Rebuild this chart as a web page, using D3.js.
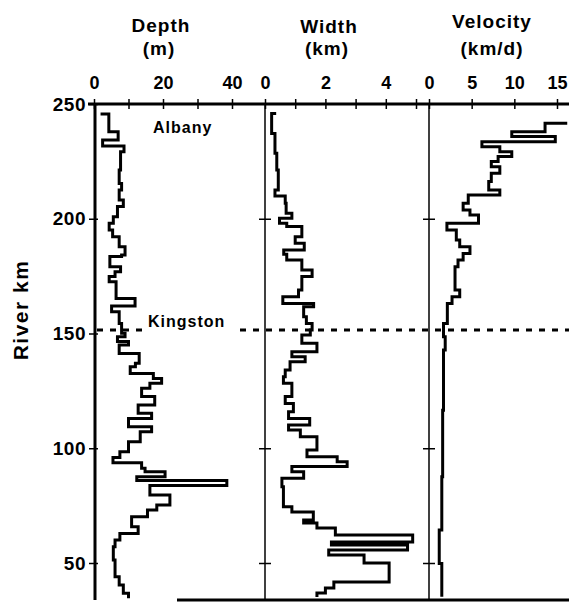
<!DOCTYPE html>
<html>
<head>
<meta charset="utf-8">
<script src="https://cdn.jsdelivr.net/npm/d3@7"></script>
<style>
body { margin: 0; background: #fff; }
svg { display: block; font-family: "Liberation Sans", Arial, Helvetica, sans-serif; font-weight: bold; }
</style>
</head>
<body>
<div id="chart"></div>
<script>
// river km at the top of each bin (last entry = bottom of last bin)
var depthKm = [245.6, 245.6, 237.9, 234.3, 231.7, 229.2, 221.2, 215.4, 212.5, 208.2,
	205.3, 200.9, 198.0, 195.1, 192.2, 187.8, 184.2, 183.5, 179.1, 176.9,
	174.8, 172.6, 165.3, 162.0, 159.5, 154.4, 150.1, 148.6, 146.5, 145.0,
	141.3, 137.0, 135.5, 132.6, 130.4, 128.3, 126.1, 122.5, 118.8, 115.2,
	113.0, 109.4, 107.2, 102.8, 98.5, 96.0, 93.7, 91.3, 89.8, 87.6,
	86.0, 83.8, 79.6, 75.3, 73.1, 70.2, 65.8, 62.9, 60.0, 57.1,
	51.3, 44.0, 40.4, 36.8, 34.6];
var depthM = [1.9, 4.3, 7.0, 2.5, 8.7, 7.7, 7.3, 8.0, 7.3, 8.5,
	6.8, 5.6, 4.4, 5.4, 7.3, 9.0, 8.0, 4.6, 7.7, 6.1,
	4.4, 6.4, 11.9, 5.1, 7.3, 8.0, 9.0, 6.8, 10.0, 7.3,
	13.1, 12.0, 10.5, 17.2, 19.6, 16.2, 13.8, 17.6, 12.8, 16.7,
	10.0, 16.7, 13.4, 10.0, 7.5, 5.5, 13.8, 14.8, 20.6, 12.4,
	38.5, 16.2, 22.0, 18.2, 15.5, 10.9, 12.8, 7.5, 6.1, 5.6,
	6.1, 7.3, 8.5, 10.0];

var widthKm = [245.9, 245.9, 237.2, 228.5, 221.2, 212.5, 209.9, 206.7, 202.4, 200.2,
	198.0, 196.6, 192.2, 189.3, 186.4, 184.5, 182.0, 177.7, 174.8, 169.0,
	166.0, 163.1, 161.7, 157.3, 154.4, 151.5, 149.3, 145.7, 142.1, 139.9,
	137.7, 134.1, 131.2, 128.3, 122.5, 119.5, 115.9, 113.0, 110.1, 107.9,
	105.0, 99.2, 96.3, 94.1, 92.0, 89.8, 86.9, 83.2, 74.5, 72.2,
	68.7, 67.4, 65.2, 62.2, 59.2, 57.8, 55.7, 53.5, 50.0, 41.7,
	39.1, 36.9, 35.2];
var widthKmW = [0.37, 0.22, 0.33, 0.39, 0.44, 0.33, 0.67, 0.70, 0.89, 0.48,
	0.72, 1.22, 1.00, 1.30, 0.62, 0.72, 1.22, 1.56, 1.22, 1.11,
	0.59, 1.61, 1.28, 1.37, 1.56, 1.50, 1.22, 1.72, 0.89, 1.33,
	0.83, 0.67, 0.61, 0.89, 0.67, 0.94, 0.78, 1.48, 0.78, 1.17,
	1.72, 1.39, 2.39, 2.72, 0.89, 1.28, 0.56, 0.61, 0.89, 1.60,
	1.28, 1.72, 2.33, 4.89, 2.20, 4.72, 2.11, 3.28, 4.11, 2.28,
	2.00, 1.72];

var velKm = [241.6, 241.6, 237.9, 235.8, 233.6, 231.4, 229.2, 227.1, 224.9, 222.7,
	219.8, 216.2, 212.5, 210.3, 206.7, 203.8, 201.6, 198.0, 195.1, 190.7,
	187.8, 184.9, 182.0, 179.1, 169.0, 166.0, 163.1, 154.4, 148.6, 142.8,
	116.6, 87.6, 64.4, 49.8, 35.3];
var velKmD = [16.2, 13.6, 9.7, 14.8, 6.2, 8.3, 9.7, 8.1, 7.3, 8.3,
	7.3, 7.0, 8.3, 4.6, 4.0, 4.8, 5.8, 2.1, 3.2, 3.6,
	4.8, 4.0, 3.4, 3.05, 3.6, 2.7, 2.15, 1.7, 1.9, 1.7,
	1.6, 1.5, 1.2, 1.5];

var kmTicks = [250, 200, 150, 100, 50];
var depthTicks = [0, 10, 20, 30, 40], depthLabels = [0, 20, 40];
var widthTicks = [0, 1, 2, 3, 4, 5], widthLabels = [0, 2, 4];
var velTicks = [0, 5, 10, 15];
var kingstonKm = 151.5;

var width = 569, height = 603;

var svg = d3.select("#chart").append("svg")
	.attr("width", width)
	.attr("height", height);

svg.append("rect").attr("width", width).attr("height", height).attr("fill", "#fff");

var y = d3.scaleLinear().domain([250, 50]).range([104, 563]);
var xDepth = d3.scaleLinear().domain([0, 40]).range([94, 232]);
var xWidth = d3.scaleLinear().domain([0, 5]).range([265, 416]);
var xVel = d3.scaleLinear().domain([0, 15]).range([429, 557]);

// frame lines
function rule(x1, y1, x2, y2, w) {
	svg.append("line").attr("x1", x1).attr("y1", y1).attr("x2", x2).attr("y2", y2)
		.attr("stroke", "#000").attr("stroke-width", w);
}
rule(88, 104, 569, 104, 3);
rule(xDepth(0) + 1, 104, xDepth(0) + 1, 600, 3);
rule(xWidth(0), 104, xWidth(0), 600, 1.5);
rule(xVel(0), 104, xVel(0), 600, 1.5);
rule(177, 600, 569, 600, 3);

// top axes
function topAxis(x, ticks, labels) {
	var g = svg.append("g")
		.attr("transform", "translate(0,104)")
		.call(d3.axisTop(x).tickValues(ticks).tickSize(5).tickPadding(10)
			.tickFormat(function(d) { return labels.indexOf(d) >= 0 ? d : ""; }));
	g.select(".domain").remove();
	g.selectAll(".tick line").attr("y1", 5).attr("stroke-width", 1.5);
	g.selectAll(".tick text").attr("font-size", 18).attr("font-family", null)
		.attr("fill", "#000");
}
topAxis(xDepth, depthTicks, depthLabels);
topAxis(xWidth, widthTicks, widthLabels);
topAxis(xVel, velTicks, velTicks);

// left axis
var gy = svg.append("g")
	.attr("transform", "translate(" + (xDepth(0) + 1) + ",0)")
	.call(d3.axisLeft(y).tickValues(kmTicks).tickSize(6).tickPadding(3));
gy.select(".domain").remove();
gy.selectAll(".tick line").attr("x1", 3).attr("stroke-width", 1.5);
gy.selectAll(".tick text").attr("font-size", 19).attr("font-family", null)
	.attr("letter-spacing", 0.5).attr("fill", "#000");

// inner axes ticks
[xWidth, xVel].forEach(function(x) {
	var g = svg.append("g")
		.attr("transform", "translate(" + x(0) + ",0)")
		.call(d3.axisLeft(y).tickValues([200, 100, 50]).tickSize(6).tickFormat(""));
	g.select(".domain").remove();
	g.selectAll(".tick line").attr("x1", 6).attr("stroke-width", 1.5);
});

// Kingston dashed line
svg.append("line")
	.attr("x1", 97).attr("x2", 569)
	.attr("y1", y(kingstonKm)).attr("y2", y(kingstonKm))
	.attr("stroke", "#000").attr("stroke-width", 3)
	.attr("stroke-dasharray", "6,7");
svg.append("rect").attr("x", 143).attr("y", y(kingstonKm) - 16)
	.attr("width", 90).attr("height", 20).attr("fill", "#fff");

// profiles
function stepPoints(edges, vals) {
	var pts = vals.map(function(v, i) { return {k: edges[i], v: v}; });
	pts.push({k: edges[edges.length - 1], v: vals[vals.length - 1]});
	return pts;
}
function profile(x, edges, vals) {
	var line = d3.line()
		.x(function(d) { return x(d.v); })
		.y(function(d) { return y(d.k); })
		.curve(d3.curveStepBefore);
	svg.append("path")
		.datum(stepPoints(edges, vals))
		.attr("d", line)
		.attr("fill", "none")
		.attr("stroke", "#000")
		.attr("stroke-width", 3)
		.attr("stroke-linejoin", "miter");
}
profile(xDepth, depthKm, depthM);
profile(xWidth, widthKm, widthKmW);
profile(xVel, velKm, velKmD);

// labels
function label(txt, x, yy, size, anchor, ls) {
	return svg.append("text").attr("x", x).attr("y", yy)
		.attr("font-size", size).attr("text-anchor", anchor || "start")
		.attr("letter-spacing", ls || 0)
		.text(txt);
}
label("Depth", 161, 32, 19, "middle", 1);
label("(m)", 159, 55, 19, "middle", 1);
label("Width", 329, 33, 19, "middle", 1);
label("(km)", 327, 55, 19, "middle", 1);
label("Velocity", 492, 28, 19, "middle", 1);
label("(km/d)", 492, 55, 19, "middle", 1);
label("Albany", 153, 133, 16, "start", 1);
label("Kingston", 148, y(kingstonKm) - 3, 16, "start", 1);

svg.append("text")
	.attr("transform", "translate(28,310) rotate(-90)")
	.attr("text-anchor", "middle")
	.attr("font-size", 21)
	.attr("letter-spacing", 1.5)
	.text("River  km");
</script>
</body>
</html>
